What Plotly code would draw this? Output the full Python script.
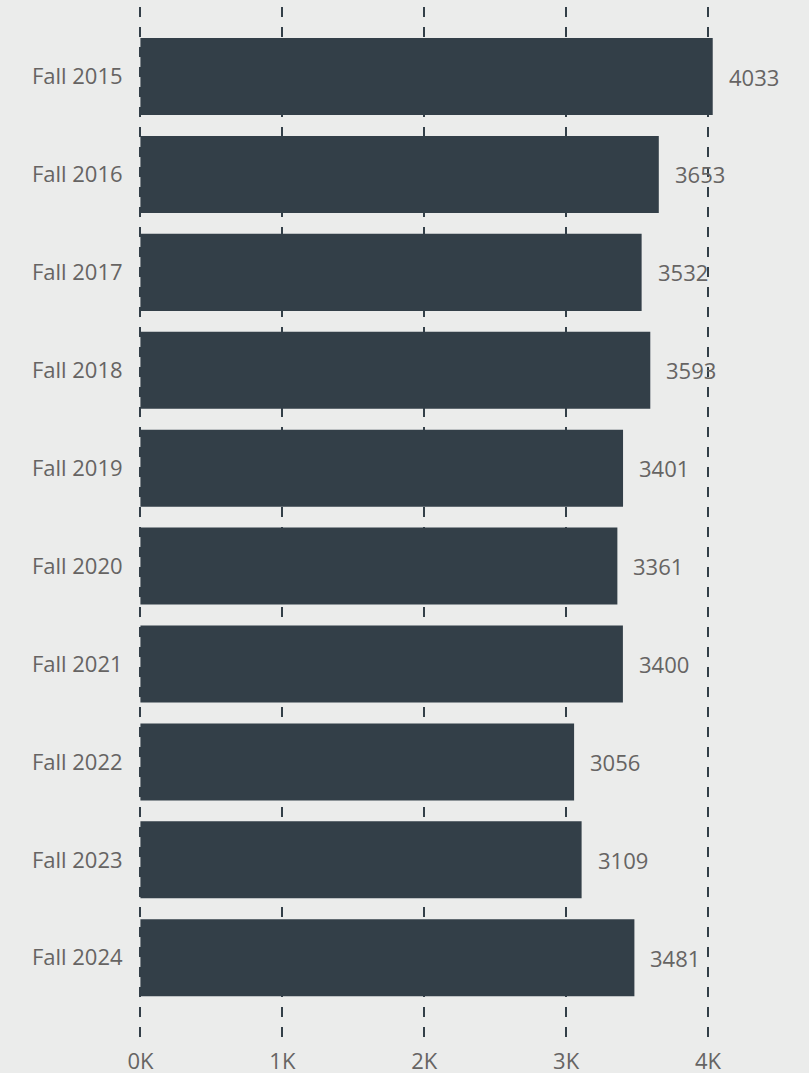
import plotly.graph_objects as go

categories = ["Fall 2015", "Fall 2016", "Fall 2017", "Fall 2018", "Fall 2019",
              "Fall 2020", "Fall 2021", "Fall 2022", "Fall 2023", "Fall 2024"]
values = [4033, 3653, 3532, 3593, 3401, 3361, 3400, 3056, 3109, 3481]
tick_vals = [0, 1000, 2000, 3000, 4000]
tick_text = ["0K", "1K", "2K", "3K", "4K"]

BAR = "#333f48"
BG = "#ebeceb"
TXT = "#666463"
FONT = "Open Sans"
FS = 22

fig = go.Figure()
fig.add_trace(go.Bar(
    x=values, y=categories, orientation="h",
    marker=dict(color=BAR, line=dict(width=0)),
    hoverinfo="skip",
))

for c, v in zip(categories, values):
    fig.add_annotation(x=v, y=c, text=str(v), showarrow=False,
                       xanchor="left", xshift=14,
                       font=dict(family=FONT, size=FS, color=TXT))

fig.update_layout(
    width=809, height=1073,
    margin=dict(l=139, r=30, t=7, b=33, pad=0),
    paper_bgcolor=BG, plot_bgcolor=BG,
    bargap=0.213,
    showlegend=False,
    font=dict(family=FONT, size=FS, color=TXT),
    xaxis=dict(
        range=[-10, 4500], automargin=False,
        tickvals=tick_vals, ticktext=tick_text,
        showgrid=True, gridcolor=BAR, gridwidth=2, griddash="10px,10px",
        zeroline=False, showline=False,
        ticks="outside", ticklen=2, tickcolor="rgba(0,0,0,0)",
        tickfont=dict(family=FONT, size=FS, color=TXT),
    ),
    yaxis=dict(
        type="category", automargin=False,
        categoryorder="array", categoryarray=categories,
        range=[9.84, -0.71],
        showgrid=False, zeroline=False, showline=False,
        ticks="outside", ticklen=11, tickcolor="rgba(0,0,0,0)",
        tickfont=dict(family=FONT, size=FS, color=TXT),
    ),
)

fig.write_html("out.html", config={"displayModeBar": False},
               post_script="document.body.style.margin='0';")
